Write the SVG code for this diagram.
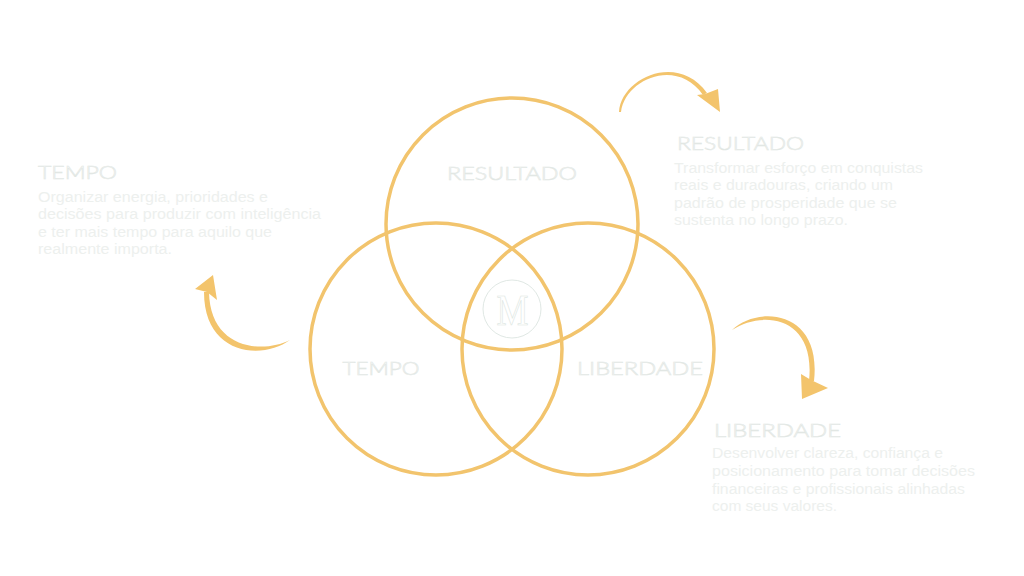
<svg xmlns="http://www.w3.org/2000/svg" width="1024" height="576" viewBox="0 0 1024 576">
<style>
.ring{fill:none;stroke:#f2c46d;stroke-width:3.5}
.arrow{fill:#f3c46c}
.title{font-family:Lato,"Liberation Sans",Arial,sans-serif;font-weight:300;font-size:18px;fill:#ffffff;stroke:#e2e7e4;stroke-width:0.6}
.body{font-family:"Liberation Sans",Arial,sans-serif;font-size:14px;fill:#edf0ee}
</style>
<rect width="1024" height="576" fill="#ffffff"/>
<g id="circle-resultado"><circle class="ring" cx="512" cy="224" r="126"/><text class="title" x="512" y="180" text-anchor="middle" textLength="130" lengthAdjust="spacingAndGlyphs">RESULTADO</text></g>
<g id="circle-tempo"><circle class="ring" cx="436" cy="349" r="126"/><text class="title" x="381" y="375" text-anchor="middle" textLength="77" lengthAdjust="spacingAndGlyphs">TEMPO</text></g>
<g id="circle-liberdade"><circle class="ring" cx="588" cy="349" r="126"/><text class="title" x="640" y="375" text-anchor="middle" textLength="126" lengthAdjust="spacingAndGlyphs">LIBERDADE</text></g>
<g id="logo"><circle cx="512" cy="309" r="29" fill="none" stroke="#e0e8e4" stroke-width="1"/><text x="512.5" y="325" text-anchor="middle" font-family="Liberation Serif,serif" font-size="44" fill="#ffffff" stroke="#dce6e2" stroke-width="0.7" textLength="32" lengthAdjust="spacingAndGlyphs">M</text></g>
<g id="connectors">
<path class="arrow" d="M619,112 C621,78 678,52 707,93 L703,95 C677,57 625,79 621,112 Z"/>
<polygon class="arrow" points="697,95 705,94 718,89 720,112"/>
<path class="arrow" d="M290,340 C263,360 204,356 204,292 L209,292 C210,349 262,354 290,340 Z"/>
<polygon class="arrow" points="213,275 217,300 207,292 195,289"/>
<path class="arrow" d="M732,330 C758,305 822,310 814,381 L809,381 C816,316 762,310 732,330 Z"/>
<polygon class="arrow" points="802,399 801,374 811,380 828,388"/>
</g>
<g id="text-tempo">
<text class="title" x="38" y="179" textLength="79" lengthAdjust="spacingAndGlyphs">TEMPO</text>
<text class="body" x="38" y="202" textLength="230" lengthAdjust="spacingAndGlyphs">Organizar energia, prioridades e</text>
<text class="body" x="38" y="219" textLength="283" lengthAdjust="spacingAndGlyphs">decisões para produzir com inteligência</text>
<text class="body" x="38" y="237" textLength="234" lengthAdjust="spacingAndGlyphs">e ter mais tempo para aquilo que</text>
<text class="body" x="38" y="254" textLength="134" lengthAdjust="spacingAndGlyphs">realmente importa.</text>
</g>
<g id="text-resultado">
<text class="title" x="677" y="150" textLength="127" lengthAdjust="spacingAndGlyphs">RESULTADO</text>
<text class="body" x="674" y="173" textLength="249" lengthAdjust="spacingAndGlyphs">Transformar esforço em conquistas</text>
<text class="body" x="674" y="190" textLength="219" lengthAdjust="spacingAndGlyphs">reais e duradouras, criando um</text>
<text class="body" x="674" y="208" textLength="223" lengthAdjust="spacingAndGlyphs">padrão de prosperidade que se</text>
<text class="body" x="674" y="225" textLength="174" lengthAdjust="spacingAndGlyphs">sustenta no longo prazo.</text>
</g>
<g id="text-liberdade">
<text class="title" x="714" y="437" textLength="127" lengthAdjust="spacingAndGlyphs">LIBERDADE</text>
<text class="body" x="712" y="458" textLength="231" lengthAdjust="spacingAndGlyphs">Desenvolver clareza, confiança e</text>
<text class="body" x="712" y="476" textLength="263" lengthAdjust="spacingAndGlyphs">posicionamento para tomar decisões</text>
<text class="body" x="712" y="494" textLength="253" lengthAdjust="spacingAndGlyphs">financeiras e profissionais alinhadas</text>
<text class="body" x="712" y="511" textLength="125" lengthAdjust="spacingAndGlyphs">com seus valores.</text>
</g>
</svg>
